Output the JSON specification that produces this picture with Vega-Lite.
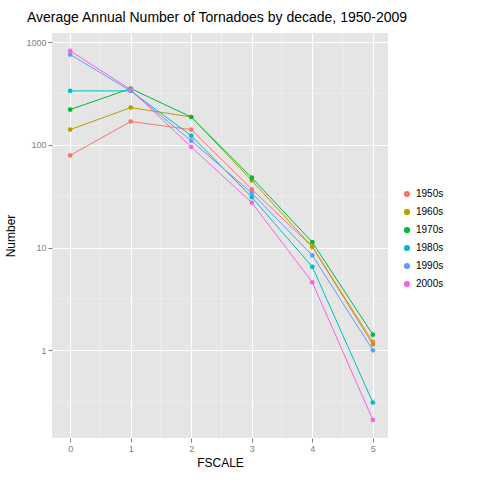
{
  "$schema": "https://vega.github.io/schema/vega-lite/v6.json",
  "autosize": "none",
  "width": 336,
  "height": 405,
  "padding": {"left": 52, "top": 33, "right": 92, "bottom": 42},
  "background": "white",
  "title": {"text": "Average Annual Number of Tornadoes by decade, 1950-2009", "anchor": "start", "frame": "group", "dx": -25, "offset": 8, "fontSize": 14, "font": "Liberation Sans", "fontWeight": "normal", "color": "black"},
  "config": {"view": {"fill": "#E5E5E5", "stroke": null}, "font": "Liberation Sans"},
  "datasets": {
    "d": [
      {"decade": "1950s", "f": 0, "n": 79}, {"decade": "1950s", "f": 1, "n": 169}, {"decade": "1950s", "f": 2, "n": 141}, {"decade": "1950s", "f": 3, "n": 37}, {"decade": "1950s", "f": 4, "n": 10.2}, {"decade": "1950s", "f": 5, "n": 1.21},
      {"decade": "1960s", "f": 0, "n": 141}, {"decade": "1960s", "f": 1, "n": 231}, {"decade": "1960s", "f": 2, "n": 187}, {"decade": "1960s", "f": 3, "n": 45}, {"decade": "1960s", "f": 4, "n": 10.2}, {"decade": "1960s", "f": 5, "n": 1.14},
      {"decade": "1970s", "f": 0, "n": 221}, {"decade": "1970s", "f": 1, "n": 354}, {"decade": "1970s", "f": 2, "n": 187}, {"decade": "1970s", "f": 3, "n": 48}, {"decade": "1970s", "f": 4, "n": 11.3}, {"decade": "1970s", "f": 5, "n": 1.42},
      {"decade": "1980s", "f": 0, "n": 336}, {"decade": "1980s", "f": 1, "n": 336}, {"decade": "1980s", "f": 2, "n": 123}, {"decade": "1980s", "f": 3, "n": 31}, {"decade": "1980s", "f": 4, "n": 6.5}, {"decade": "1980s", "f": 5, "n": 0.31},
      {"decade": "1990s", "f": 0, "n": 759}, {"decade": "1990s", "f": 1, "n": 336}, {"decade": "1990s", "f": 2, "n": 110}, {"decade": "1990s", "f": 3, "n": 34}, {"decade": "1990s", "f": 4, "n": 8.4}, {"decade": "1990s", "f": 5, "n": 1.0},
      {"decade": "2000s", "f": 0, "n": 824}, {"decade": "2000s", "f": 1, "n": 346}, {"decade": "2000s", "f": 2, "n": 95.5}, {"decade": "2000s", "f": 3, "n": 27.4}, {"decade": "2000s", "f": 4, "n": 4.6}, {"decade": "2000s", "f": 5, "n": 0.21}
    ],
    "minx": [{"x": 0.5}, {"x": 1.5}, {"x": 2.5}, {"x": 3.5}, {"x": 4.5}],
    "miny": [{"y": 0.316}, {"y": 3.16}, {"y": 31.6}, {"y": 316}]
  },
  "layer": [
    {
      "data": {"name": "minx"},
      "mark": {"type": "rule", "color": "#F2F2F2", "strokeWidth": 0.6},
      "encoding": {"x": {"field": "x", "type": "quantitative", "scale": {"domain": [-0.3, 5.25], "nice": false, "zero": false}}}
    },
    {
      "data": {"name": "miny"},
      "mark": {"type": "rule", "color": "#F2F2F2", "strokeWidth": 0.6},
      "encoding": {"y": {"field": "y", "type": "quantitative", "scale": {"type": "log", "domain": [0.14, 1230], "nice": false}}}
    },
    {
      "data": {"name": "d"},
      "mark": {"type": "line", "strokeWidth": 1},
      "encoding": {
        "x": {"field": "f", "type": "quantitative", "title": "FSCALE", "scale": {"domain": [-0.3, 5.25], "nice": false, "zero": false},
          "axis": {"values": [0, 1, 2, 3, 4, 5], "format": "d", "gridColor": "white", "gridWidth": 1.2, "domain": false, "tickColor": "#7F7F7F", "tickSize": 4, "labelColor": "#7F7F7F", "labelFontSize": 9, "titleFontSize": 12, "titleFontWeight": "normal", "titleColor": "black", "titlePadding": 4}},
        "y": {"field": "n", "type": "quantitative", "title": "Number", "scale": {"type": "log", "domain": [0.14, 1230], "nice": false},
          "axis": {"values": [1, 10, 100, 1000], "format": "d", "gridColor": "white", "gridWidth": 1.2, "domain": false, "tickColor": "#7F7F7F", "tickSize": 4, "labelColor": "#7F7F7F", "labelFontSize": 9, "titleFontSize": 12, "titleFontWeight": "normal", "titleColor": "black", "titlePadding": 8}},
        "color": {"field": "decade", "type": "nominal", "title": null,
          "scale": {"range": ["#F8766D", "#B79F00", "#00BA38", "#00BFC4", "#619CFF", "#F564E3"]},
          "legend": {"orient": "none", "legendX": 350, "legendY": 156, "symbolType": "circle", "symbolSize": 22, "labelFontSize": 10, "labelColor": "black", "rowPadding": 6}}
      }
    },
    {
      "data": {"name": "d"},
      "mark": {"type": "circle", "size": 22, "opacity": 1},
      "encoding": {
        "x": {"field": "f", "type": "quantitative"},
        "y": {"field": "n", "type": "quantitative"},
        "color": {"field": "decade", "type": "nominal"}
      }
    }
  ]
}
